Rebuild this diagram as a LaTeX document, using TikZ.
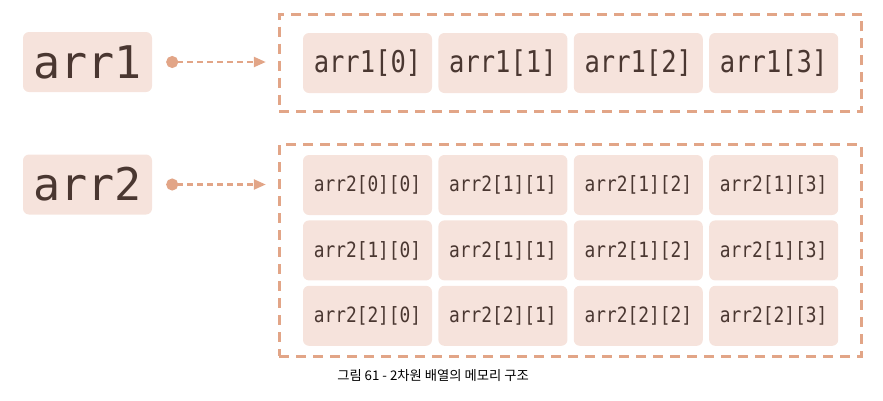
\documentclass[tikz,border=0pt]{standalone}
\usepackage{fontspec}
\usepackage{tikz}
\usetikzlibrary{arrows.meta,fit,positioning}
\newfontfamily\codefont{DejaVu Sans Mono}
\newfontfamily\cellfont[FakeStretch=0.85]{DejaVu Sans Mono}
\newfontfamily\captionfont{Noto Sans CJK KR}
\definecolor{cellfill}{HTML}{F6E3DC}
\definecolor{peach}{HTML}{E2A587}
\definecolor{ink}{HTML}{4A3731}

\begin{document}
\begin{tikzpicture}[x=1pt,y=-1pt,node distance=5pt and 6pt]

\tikzset{cellnode/.style={fill=cellfill,text=ink,rounded corners=6pt,inner sep=0pt,minimum width=129pt,minimum height=60pt},
bigcell/.style={cellnode,font=\codefont\fontsize{45}{49}\selectfont},
onecell/.style={cellnode,font=\cellfont\fontsize{30}{34}\selectfont},
twocell/.style={cellnode,font=\cellfont\fontsize{21}{25}\selectfont},
memframe/.style={draw=peach,line width=3pt,dash pattern=on 10pt off 7pt,inner xsep=23.5pt},
pointer/.style={draw=peach,line width=2.3pt,dash pattern=on 6pt off 4pt,{Circle[length=12pt]}-{Triangle[length=12pt,width=10pt]},shorten <=14pt,shorten >=12pt}}

\useasboundingbox (0,0) rectangle (883,400);

% Variable nodes
\node (v1) [bigcell] at (87.5,62) {arr1};
\node (v2) [bigcell] at (87.5,184.5) {arr2};

% arr1 cells
\node (a0) [onecell] at (367.5,63) {arr1[0]};
\node (a1) [onecell,right=of a0] {arr1[1]};
\node (a2) [onecell,right=of a1] {arr1[2]};
\node (a3) [onecell,right=of a2] {arr1[3]};

% arr2 cells
\node (b00) [twocell] at (367.5,185) {arr2[0][0]};
\node (b01) [twocell,right=of b00] {arr2[1][1]};
\node (b02) [twocell,right=of b01] {arr2[1][2]};
\node (b03) [twocell,right=of b02] {arr2[1][3]};
\node (b10) [twocell,below=of b00] {arr2[1][0]};
\node (b11) [twocell,right=of b10] {arr2[1][1]};
\node (b12) [twocell,right=of b11] {arr2[1][2]};
\node (b13) [twocell,right=of b12] {arr2[1][3]};
\node (b20) [twocell,below=of b10] {arr2[2][0]};
\node (b21) [twocell,right=of b20] {arr2[2][1]};
\node (b22) [twocell,right=of b21] {arr2[2][2]};
\node (b23) [twocell,right=of b22] {arr2[2][3]};

% Memory frames
\node (box1) [memframe,inner ysep=18.5pt,fit=(a0)(a3)] {};
\node (box2) [memframe,inner ysep=10pt,fit=(b00)(b23)] {};

% Pointers
\draw[pointer] (v1.east) -- (v1.east -| box1.west);
\draw[pointer] (v2.east) -- (v2.east -| box2.west);

% Caption
\node (caption) [font=\captionfont\fontsize{13.3}{15}\selectfont,text=black] at (433,376) {그림 61 - 2차원 배열의 메모리 구조};

\end{tikzpicture}
\end{document}
